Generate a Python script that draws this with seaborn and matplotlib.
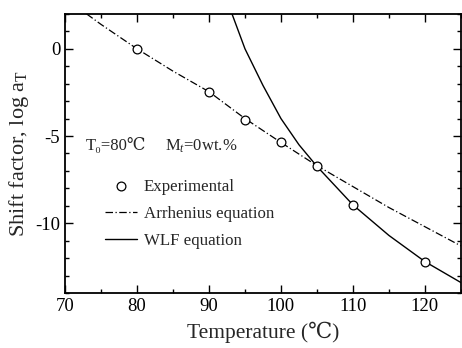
import matplotlib
matplotlib.use("Agg")
import matplotlib.pyplot as plt
import seaborn as sns
import pandas as pd
from matplotlib.ticker import MultipleLocator

# Data
exp_T = [80, 90, 95, 100, 105, 110, 120]
exp_log = [0.0, -2.46, -4.06, -5.37, -6.74, -8.95, -12.2]

arr_T = [73.0, 75, 80, 85, 90, 95, 100, 105, 110, 115, 120, 125]
arr_log = [2.0, 1.4, 0.0, -1.28, -2.46, -4.0, -5.37, -6.7, -7.9, -9.1, -10.2, -11.3]

wlf_T = [93.2, 95, 97.5, 100, 102.5, 105, 110, 115, 120, 125]
wlf_log = [2.0, 0.0, -2.1, -4.0, -5.5, -6.74, -8.95, -10.7, -12.2, -13.4]

sns.set_theme(style="ticks")
plt.rcParams['font.family'] = ['Liberation Serif', 'DejaVu Serif']
plt.rcParams['mathtext.fontset'] = 'custom'
plt.rcParams['mathtext.rm'] = 'Liberation Serif'
plt.rcParams['mathtext.it'] = 'Liberation Serif:italic'
plt.rcParams['axes.unicode_minus'] = False

fig = plt.figure(figsize=(4.62, 3.48), dpi=100)
ax = fig.add_axes([0.1407, 0.158, 0.857, 0.802])

df_exp = pd.DataFrame({"T": exp_T, "log": exp_log})
df_arr = pd.DataFrame({"T": arr_T, "log": arr_log})
df_wlf = pd.DataFrame({"T": wlf_T, "log": wlf_log})

sns.lineplot(data=df_arr, x="T", y="log", ax=ax, color="black", lw=0.9,
             linestyle=(0, (6, 2, 1, 2)), label="Arrhenius equation")
sns.lineplot(data=df_wlf, x="T", y="log", ax=ax, color="black", lw=1.0,
             label="WLF equation")
sns.scatterplot(data=df_exp, x="T", y="log", ax=ax, marker="o", s=40,
                facecolor="white", edgecolor="black", linewidth=0.9,
                label="Experimental", zorder=5)

ax.set_xlim(70, 125)
ax.set_ylim(-14, 2)
ax.xaxis.set_major_locator(MultipleLocator(10))
ax.xaxis.set_minor_locator(MultipleLocator(5))
ax.yaxis.set_major_locator(MultipleLocator(5))
ax.yaxis.set_minor_locator(MultipleLocator(1))
ax.tick_params(which="both", direction="in", top=True, right=True, labelsize=13.5, colors="black")
ax.tick_params(which="major", length=6, width=1.0)
ax.tick_params(which="minor", length=3, width=1.0)
for s in ax.spines.values():
    s.set_linewidth(1.3)
    s.set_color("black")

ax.set_xlabel("Temperature (\u2103)", fontsize=15.5, labelpad=5)
ax.set_ylabel(r"Shift factor, log a$_\mathrm{T}$", fontsize=16, labelpad=3)

ax.text(0.053, 0.527, "T\u2080=80\u2103", transform=ax.transAxes, fontsize=12, va="center",
        family=['Liberation Serif', 'DejaVu Serif'])
ax.text(0.252, 0.527, "M$_t$=0wt.%", transform=ax.transAxes, fontsize=12, va="center")

h, l = ax.get_legend_handles_labels()
order = [l.index("Experimental"), l.index("Arrhenius equation"), l.index("WLF equation")]
ax.legend([h[i] for i in order], [l[i] for i in order], loc="upper left",
          bbox_to_anchor=(0.1, 0.41), frameon=False, fontsize=12.2,
          handlelength=1.9, labelspacing=0.65, handletextpad=0.4,
          borderpad=0, borderaxespad=0)

fig.savefig("out.png", dpi=100)
